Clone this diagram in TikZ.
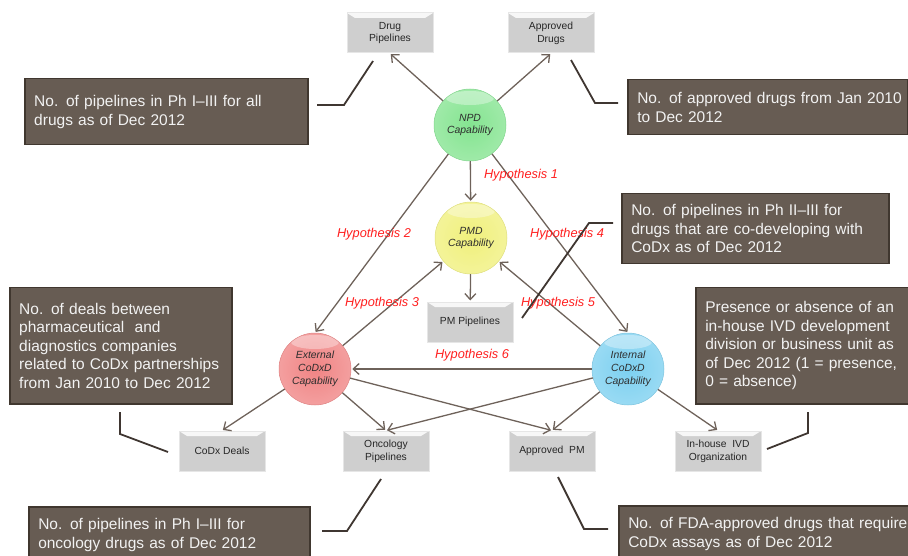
\documentclass[tikz,border=0pt]{standalone}
\usepackage{fontspec}
\setmainfont{Liberation Sans}
\usetikzlibrary{arrows.meta}
\definecolor{darkboxc}{HTML}{675C53}
\definecolor{darkedge}{HTML}{40372F}
\definecolor{arrowc}{HTML}{6E625A}
\definecolor{calloutc}{HTML}{3F3631}
\definecolor{grayfill}{HTML}{CFCFCF}
\definecolor{grayedge}{HTML}{E6E6E6}
\definecolor{hypred}{HTML}{FF1F1F}
\definecolor{npdc}{HTML}{84E490}
\definecolor{pmdc}{HTML}{F0F07C}
\definecolor{extc}{HTML}{F08484}
\definecolor{intc}{HTML}{7CD0F0}
\newcommand{\oneln}[1]{\mbox{#1}}
\begin{document}
\begin{tikzpicture}[x=1pt,y=-1pt,
  darkbox/.style={draw=darkedge, line width=1.5pt, fill=darkboxc, text=white!95!black,
    font=\fontsize{15.5}{18.5}\selectfont, align=left, anchor=north west,
    inner xsep=9.5pt, inner ysep=0pt},
  graybox/.style={draw=grayedge, line width=1pt, fill=grayfill, minimum width=86pt,
    minimum height=40pt, inner sep=1pt, align=center, text=black!85,
    font=\fontsize{10.3}{12.7}\selectfont,
    path picture={\fill[white!94!gray] (path picture bounding box.north west) --
      (path picture bounding box.north east) --
      ([xshift=-8pt,yshift=-5pt]path picture bounding box.north east) --
      ([xshift=8pt,yshift=-5pt]path picture bounding box.north west) -- cycle;}},
  capball/.style={circle, minimum size=72pt, inner sep=0pt, align=center, text=black!82,
    font=\itshape\fontsize{10.4}{12.7}\selectfont,
    shading=radial, inner color=#1, outer color=#1!78!white,
    draw=#1!85!gray, line width=0.5pt,
    path picture={\fill[white,opacity=0.35] ([yshift=-9pt]path picture bounding box.north) ellipse (24pt and 7pt);}},
  arr/.style={draw=arrowc, line width=1.3pt, -{Straight Barb[length=6pt,width=11pt]}, shorten >=1pt},
  hyp/.style={text=hypred, font=\itshape\fontsize{12.8}{15}\selectfont, inner sep=0pt},
  callout/.style={draw=calloutc, line width=1.8pt}
]
\useasboundingbox (0,0) rectangle (908,556);

% capability circles
\node[capball=npdc] (npd) at (470,125) {NPD\\Capability};
\node[capball=pmdc] (pmd) at (471,238) {PMD\\Capability};
\node[capball=extc] (ext) at (315,369) {External\\CoDxD\\Capability};
\node[capball=intc] (int) at (628,369) {Internal\\CoDxD\\Capability};

% output boxes
\node[graybox] (drugp) at (390,33) {Drug\\Pipelines};
\node[graybox] (appd) at (551,33) {Approved\\Drugs};
\node[graybox] (pmp) at (470,322) {PM Pipelines};
\node[graybox] (codx) at (222,451) {CoDx Deals};
\node[graybox] (oncp) at (386,451) {Oncology\\Pipelines};
\node[graybox] (apm) at (552,451) {Approved~~PM};
\node[graybox] (ihivd) at (718,451) {In-house~~IVD\\Organization};

% arrows
\draw[arr] (npd) -- (drugp.south);
\draw[arr] (npd) -- (appd.south);
\draw[arr] (npd) -- (pmd);
\draw[arr] (npd) -- (ext.north);
\draw[arr] (npd) -- (int.north);
\draw[arr] (ext) -- (pmd);
\draw[arr] (int) -- (pmd);
\draw[arr] (pmd) -- (pmp);
\draw[arr] (int) -- (ext);
\draw[arr] (ext) -- (codx.north);
\draw[arr] (ext) -- (oncp.north);
\draw[arr] (ext) -- (apm.north);
\draw[arr] (int) -- (oncp.north);
\draw[arr] (int) -- (apm.north);
\draw[arr] (int) -- (ihivd.north);

% hypothesis labels
\node[hyp] (h1) at (521,175) {Hypothesis 1};
\node[hyp] (h2) at (374,234) {Hypothesis 2};
\node[hyp] (h3) at (382,303) {Hypothesis 3};
\node[hyp] (h4) at (567,234) {Hypothesis 4};
\node[hyp] (h5) at (558,303) {Hypothesis 5};
\node[hyp] (h6) at (472,355) {Hypothesis 6};

% description boxes
\node[darkbox, text width=264pt, minimum height=66pt] (b1) at (24,78)
  {\oneln{No. of pipelines in Ph I–III for all}\\\oneln{drugs as of Dec 2012}};
\node[darkbox, text width=261pt, minimum height=55pt] (b2) at (627,79)
  {\oneln{No. of approved drugs from Jan 2010}\\\oneln{to Dec 2012}};
\node[darkbox, text width=248pt, minimum height=70pt] (b3) at (621,193)
  {\oneln{No. of pipelines in Ph II–III for}\\\oneln{drugs that are co-developing with}\\\oneln{CoDx as of Dec 2012}};
\node[darkbox, text width=203pt, minimum height=116pt] (b4) at (9,287)
  {\oneln{No. of deals between}\\\oneln{pharmaceutical~~and}\\\oneln{diagnostics companies}\\\oneln{related to CoDx partnerships}\\\oneln{from Jan 2010 to Dec 2012}};
\node[darkbox, text width=195pt, minimum height=116pt] (b5) at (695,287)
  {\oneln{Presence or absence of an}\\\oneln{in-house IVD development}\\\oneln{division or business unit as}\\\oneln{of Dec 2012 (1 = presence,}\\\oneln{0 = absence)}};
\node[darkbox, text width=262pt, minimum height=56pt] (b6) at (28,506)
  {\oneln{No. of pipelines in Ph I–III for}\\\oneln{oncology drugs as of Dec 2012}};
\node[darkbox, text width=281pt, minimum height=56pt] (b7) at (618,505)
  {\oneln{No. of FDA-approved drugs that require}\\\oneln{CoDx assays as of Dec 2012}};

% callout leader lines
\coordinate (c1a) at (317,105); \coordinate (c1b) at (344,105); \coordinate (c1c) at (373,61);
\coordinate (c2a) at (618,103); \coordinate (c2b) at (595,103); \coordinate (c2c) at (571,60);
\coordinate (c3a) at (522,318); \coordinate (c3b) at (589,223); \coordinate (c3c) at (613,223);
\coordinate (c4a) at (120,412); \coordinate (c4b) at (120,434); \coordinate (c4c) at (168,452);
\coordinate (c5a) at (808,412); \coordinate (c5b) at (808,433); \coordinate (c5c) at (767,449);
\coordinate (c6a) at (381,479); \coordinate (c6b) at (347,531); \coordinate (c6c) at (322,531);
\coordinate (c7a) at (558,477); \coordinate (c7b) at (584,529); \coordinate (c7c) at (608,529);
\draw[callout] (c1a) -- (c1b) -- (c1c);
\draw[callout] (c2a) -- (c2b) -- (c2c);
\draw[callout] (c3a) -- (c3b) -- (c3c);
\draw[callout] (c4a) -- (c4b) -- (c4c);
\draw[callout] (c5a) -- (c5b) -- (c5c);
\draw[callout] (c6a) -- (c6b) -- (c6c);
\draw[callout] (c7a) -- (c7b) -- (c7c);
\end{tikzpicture}
\end{document}
